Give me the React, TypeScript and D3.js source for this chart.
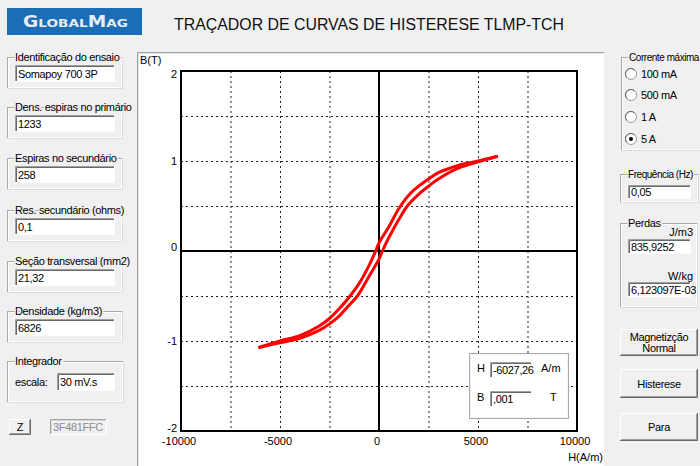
import React from 'react';
import * as d3 from 'd3';

// hysteresis loop: descending branch (from + tip) and ascending branch (from - tip)
const descH = [5940, 5000, 4000, 3000, 2500, 2000, 1500, 1000, 500, 0, -170, -500, -1000, -1460, -2000, -2500, -3000, -4000, -5000, -6027];
const descB = [1.05, 1.0, 0.95, 0.87, 0.8, 0.72, 0.62, 0.47, 0.27, 0.09, 0.0, -0.16, -0.36, -0.5, -0.64, -0.75, -0.83, -0.94, -1.0, -1.07];
const ascH = [-6027, -5000, -4000, -3000, -2500, -2000, -1500, -1090, -500, 0, 170, 500, 1000, 1430, 2000, 2500, 3000, 4000, 5000, 5940];
const ascB = [-1.07, -1.02, -0.97, -0.88, -0.81, -0.72, -0.6, -0.5, -0.28, -0.09, 0.0, 0.15, 0.35, 0.5, 0.63, 0.72, 0.8, 0.92, 0.99, 1.05];

const xTicks = [-10000, -5000, 0, 5000, 10000];
const xGrid = [-7500, -5000, -2500, 2500, 5000, 7500];
const yTicks = [2, 1, 0, -1, -2];
const yGrid = [-1.5, -1, -0.5, 0.5, 1, 1.5];

const leftLabels = [
  'Identificação do ensaio',
  'Dens. espiras no primário',
  'Espiras no secundário',
  'Res. secundário (ohms)',
  'Seção transversal (mm2)',
  'Densidade  (kg/m3)',
];
const leftValues = ['Somapoy 700 3P', '1233', '258', '0,1', '21,32', '6826'];
const currents = ['100 mA', '500 mA', '1 A', '5 A'];
const selectedCurrent = '5 A';
const buttons = [['Magnetizção', 'Normal'], ['Histerese'], ['Para']];

const FONT = '"Liberation Sans", Arial, sans-serif';
const BG = '#f0f0f0';

const margin = { top: 71, right: 577, bottom: 431, left: 181 };

function TextBox({ x, y, w, h, text, disabled = false }) {
  return (
    <g>
      <rect x={x} y={y} width={w} height={h} fill={disabled ? BG : '#fff'} />
      <path d={`M${x + 0.5},${y + h} V${y + 0.5} H${x + w}`} stroke="#a0a0a0" fill="none" />
      <path d={`M${x + 1.5},${y + h - 1} V${y + 1.5} H${x + w - 1}`} stroke={disabled ? '#d8d8d8' : '#696969'} fill="none" />
      <path d={`M${x},${y + h - 0.5} H${x + w - 0.5} V${y}`} stroke="#fff" fill="none" />
      <text x={x + 3} y={y + h / 2 + 4} fontSize={11} letterSpacing={-0.35} fill={disabled ? '#8c8c8c' : '#000'}>{text}</text>
    </g>
  );
}

function GroupBox({ x, y, w, h, label, small = false }) {
  const size = small ? 10 : 11;
  return (
    <g>
      <rect x={x + 0.5} y={y + 0.5} width={w} height={h} fill="none" stroke="#d5dfe5" />
      <rect x={x + 0.5} y={y + 0.5} width={w - 1} height={h - 1} fill="none" stroke="#a9a9a9" />
      <rect x={x + 1.5} y={y + 1.5} width={w - 2} height={h - 2} fill="none" stroke="#fff" />
      {label && (
        <text x={x + 8} y={y + 4} fontSize={size} letterSpacing={small ? -0.45 : -0.35} fill="#000"
          stroke={BG} strokeWidth={3} paintOrder="stroke">{label}</text>
      )}
    </g>
  );
}

function Button({ x, y, w, h, lines }) {
  return (
    <g>
      <rect x={x} y={y} width={w} height={h} fill={BG} />
      <path d={`M${x + 0.5},${y + h} V${y + 0.5} H${x + w}`} stroke="#fff" fill="none" />
      <path d={`M${x},${y + h - 0.5} H${x + w - 0.5} V${y}`} stroke="#696969" fill="none" />
      <path d={`M${x + 1},${y + h - 1.5} H${x + w - 1.5} V${y + 1}`} stroke="#a0a0a0" fill="none" />
      {lines.map((l, i) => (
        <text key={l} x={x + w / 2} y={y + h / 2 + 4 + (i - (lines.length - 1) / 2) * 11}
          fontSize={11} letterSpacing={-0.35} textAnchor="middle">{l}</text>
      ))}
    </g>
  );
}

export default function App() {
  const x = d3.scaleLinear().domain([-10000, 10000]).range([margin.left, margin.right]);
  const y = d3.scaleLinear().domain([-2, 2]).range([margin.bottom, margin.top]);

  const line = d3.line<[number, number]>()
    .x(d => x(d[0]))
    .y(d => y(d[1]))
    .curve(d3.curveCatmullRom.alpha(0.5));

  const desc = descH.map((h, i) => [h, descB[i]] as [number, number]);
  const asc = ascH.map((h, i) => [h, ascB[i]] as [number, number]);

  const leftY = [57, 107, 158, 210, 261, 311];
  const radioY = [74, 95, 117, 139];
  const buttonY = [[329, 27], [369, 29], [413, 28]];

  return (
    <svg width={700} height={466} style={{ position: 'fixed', left: 0, top: 0 }} fontFamily={FONT}>
      <rect width={700} height={466} fill={BG} />

      {/* header */}
      <rect x={7} y={8} width={135} height={27} fill="#1b6db5" />
      <text x={23} y={27} fill="#e6edf5" fontWeight="bold" fontFamily='"DejaVu Sans", Verdana, sans-serif'
        textLength={105} lengthAdjust="spacingAndGlyphs">
        <tspan fontSize={15}>G</tspan><tspan fontSize={11}>LOBAL</tspan>
        <tspan fontSize={15}>M</tspan><tspan fontSize={11}>AG</tspan>
      </text>
      <text x={174} y={30} fontSize={16} textLength={390} lengthAdjust="spacingAndGlyphs" fill="#111">
        TRAÇADOR DE CURVAS DE HISTERESE TLMP-TCH
      </text>

      {/* left input panel */}
      {leftLabels.map((l, i) => (
        <g key={l}>
          <GroupBox x={7} y={leftY[i]} w={115} h={31} label={l} />
          <TextBox x={15} y={leftY[i] + 8} w={100} h={17} text={leftValues[i]} />
        </g>
      ))}
      <GroupBox x={7} y={361} w={116} h={41} label="Integrador" />
      <text x={15} y={386} fontSize={11} letterSpacing={-0.35}>escala:</text>
      <TextBox x={57} y={373} w={58} h={18} text="30 mV.s" />
      <Button x={9} y={419} w={22} h={16} lines={['Z']} />
      <TextBox x={50} y={419} w={57} h={16} text="3F481FFC" disabled />

      {/* chart panel */}
      <rect x={137} y={52} width={467} height={420} fill="#fff" />
      <path d="M137.5,466 V52.5 H604" stroke="#a0a0a0" fill="none" />
      <path d="M138.5,466 V53.5 H603" stroke="#e3e3e3" fill="none" />

      <g stroke="#222" strokeWidth={1} strokeDasharray="2,3">
        {xGrid.map(v => (
          <line key={v} x1={x(v) + 0.5} x2={x(v) + 0.5} y1={margin.top} y2={margin.bottom} />
        ))}
        {yGrid.map(v => (
          <line key={v} x1={margin.left} x2={margin.right} y1={y(v) + 0.5} y2={y(v) + 0.5} />
        ))}
      </g>
      <g stroke="#000" strokeWidth={2}>
        <line x1={x(0)} x2={x(0)} y1={margin.top} y2={margin.bottom} />
        <line x1={margin.left} x2={margin.right} y1={y(0)} y2={y(0)} />
      </g>

      <path d={line(desc) ?? ''} fill="none" stroke="#ff0000" strokeWidth={3} strokeLinecap="round" />
      <path d={line(asc) ?? ''} fill="none" stroke="#ff0000" strokeWidth={3} strokeLinecap="round" />

      <rect x={margin.left} y={margin.top} width={margin.right - margin.left} height={margin.bottom - margin.top}
        fill="none" stroke="#000" strokeWidth={2} />

      {yTicks.map(v => (
        <text key={v} x={177} y={Math.min(Math.max(y(v), y(2) + 3), y(-2) - 3) + (v === 0 ? 0 : 4)} fontSize={11}
          textAnchor="end">{v}</text>
      ))}
      {xTicks.map(v => (
        <text key={v} x={x(v) - 2} y={445} fontSize={11} textAnchor="middle">{v}</text>
      ))}
      <text x={140} y={64} fontSize={11}>B(T)</text>
      <text x={603} y={461} fontSize={11} textAnchor="end">H(A/m)</text>

      {/* readout box */}
      <rect x={469} y={353} width={100} height={66} fill="#fff" />
      <rect x={469.5} y={353.5} width={99} height={65} fill="none" stroke="#a9a9a9" />
      <rect x={470.5} y={354.5} width={97} height={63} fill="none" stroke="#f4f4f4" />
      <text x={477} y={372} fontSize={11}>H</text>
      <TextBox x={490} y={362} w={42} h={16} text="-6027,26" />
      <text x={541} y={372} fontSize={11}>A/m</text>
      <text x={477} y={401} fontSize={11}>B</text>
      <TextBox x={490} y={391} w={42} h={16} text=",001" />
      <text x={550} y={401} fontSize={11}>T</text>

      {/* right control panel */}
      <GroupBox x={621} y={57} w={80} h={93} label="Corrente máxima" small />
      {currents.map((c, i) => (
        <g key={c}>
          <circle cx={631} cy={radioY[i]} r={5.5} fill="#fff" stroke="#9a9a9a" />
          <path d={`M${627},${radioY[i] + 3.5} A5,5 0 0 1 ${634.5},${radioY[i] - 4}`} stroke="#696969" fill="none" />
          {c === selectedCurrent && <circle cx={631} cy={radioY[i]} r={2} fill="#000" />}
          <text x={641} y={radioY[i] + 4} fontSize={11} letterSpacing={-0.35}>{c}</text>
        </g>
      ))}

      <GroupBox x={620} y={174} w={78} h={28} label="Frequência (Hz)" small />
      <TextBox x={628} y={185} w={63} h={14} text="0,05" />

      <GroupBox x={620} y={223} w={77} h={84} label="Perdas" />
      <text x={693} y={236} fontSize={11} textAnchor="end">J/m3</text>
      <TextBox x={628} y={239} w={63} h={15} text="835,9252" />
      <text x={693} y={280} fontSize={11} textAnchor="end">W/kg</text>
      <TextBox x={628} y={282} w={63} h={15} text="6,123097E-03" />

      {buttons.map((b, i) => (
        <Button key={b[0]} x={620} y={buttonY[i][0]} w={78} h={buttonY[i][1]} lines={b} />
      ))}
    </svg>
  );
}
